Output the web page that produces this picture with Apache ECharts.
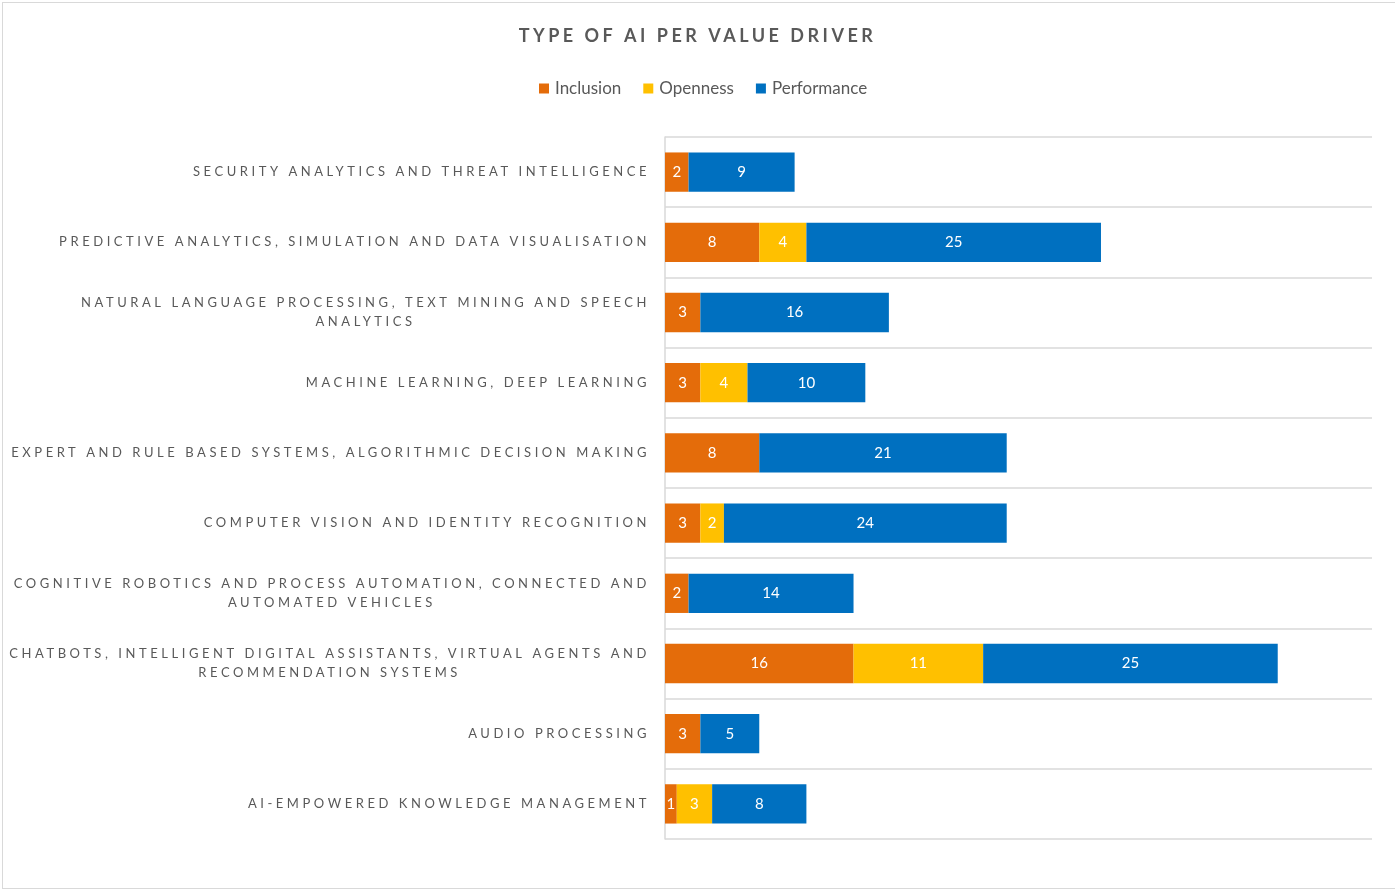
<!DOCTYPE html>
<html>
<head>
<meta charset="utf-8">
<script src="https://cdn.jsdelivr.net/npm/echarts@6/dist/echarts.min.js"></script>
<style>
html,body{margin:0;padding:0;background:#fff;}
#frame{position:absolute;left:2px;top:2px;width:1400px;height:887px;border:1px solid #d9d9d9;box-sizing:border-box;}
#chart{position:absolute;left:0;top:0;width:1395px;height:891px;}
</style>
</head>
<body>
<div id="frame"></div>
<div id="chart"></div>
<script>
// letter-spacing support for canvas text: font families tagged "spcN_M" get N.M px spacing
(function(){
  var proto = CanvasRenderingContext2D.prototype;
  var d = Object.getOwnPropertyDescriptor(proto, 'font');
  if (d && 'letterSpacing' in proto) {
    Object.defineProperty(proto, 'font', {
      configurable: true,
      get: function(){ return d.get.call(this); },
      set: function(v){
        d.set.call(this, v);
        var m = /spc(\d+)_(\d+)/.exec(String(v));
        this.letterSpacing = m ? (m[1] + '.' + m[2]) + 'px' : '0px';
      }
    });
  }
})();

const title = 'TYPE OF AI PER VALUE DRIVER';
const categories = [
  'SECURITY ANALYTICS AND THREAT INTELLIGENCE',
  'PREDICTIVE ANALYTICS, SIMULATION AND DATA VISUALISATION',
  'NATURAL LANGUAGE PROCESSING, TEXT MINING AND SPEECH ANALYTICS',
  'MACHINE LEARNING, DEEP LEARNING',
  'EXPERT AND RULE BASED SYSTEMS, ALGORITHMIC DECISION MAKING',
  'COMPUTER VISION AND IDENTITY RECOGNITION',
  'COGNITIVE ROBOTICS AND PROCESS AUTOMATION, CONNECTED AND AUTOMATED VEHICLES',
  'CHATBOTS, INTELLIGENT DIGITAL ASSISTANTS, VIRTUAL AGENTS AND RECOMMENDATION SYSTEMS',
  'AUDIO PROCESSING',
  'AI-EMPOWERED KNOWLEDGE MANAGEMENT'
];
const inclusion   = [2, 8, 3, 3, 8, 3, 2, 16, 3, 1];
const openness    = [0, 4, 0, 4, 0, 2, 0, 11, 0, 3];
const performance = [9, 25, 16, 10, 21, 24, 14, 25, 5, 8];

function wrap(s, max) {
  const words = s.split(' ');
  const lines = [];
  let cur = '';
  words.forEach(w => {
    if (cur && (cur + ' ' + w).length > max) { lines.push(cur); cur = w; }
    else cur = cur ? cur + ' ' + w : w;
  });
  if (cur) lines.push(cur);
  return lines;
}

const chart = echarts.init(document.getElementById('chart'), null, {renderer: 'canvas'});
const labelFont = "Lato, spc3_55";
const lbl = {
  show: true, color: '#ffffff', fontSize: 15, fontFamily: 'Lato',
  formatter: p => (p.value ? String(p.value) : '')
};
function series(name, data, color) {
  return {
    name: name, type: 'bar', stack: 'total', data: data, barWidth: '56%',
    itemStyle: {color: color}, label: lbl, emphasis: {disabled: true}
  };
}
chart.setOption({
  animation: false,
  title: {
    text: title, left: 'center', top: 20,
    textStyle: {color: '#595959', fontSize: 18, fontWeight: 'bold', fontFamily: "Lato, spc3_5"}
  },
  legend: {
    top: 75, left: 534, itemWidth: 10, itemHeight: 10, itemGap: 22,
    icon: 'rect',
    textStyle: {color: '#595959', fontSize: 17, fontFamily: 'Lato', padding: [0, 0, 0, 1]},
    data: ['Inclusion', 'Openness', 'Performance']
  },
  grid: {left: 665, right: 23, top: 137, bottom: 52, containLabel: false},
  xAxis: {
    type: 'value', min: 0, max: 60,
    axisLabel: {show: false}, axisLine: {show: false}, axisTick: {show: false},
    splitLine: {show: false}
  },
  yAxis: {
    type: 'category', data: categories, inverse: true,
    axisTick: {show: false},
    axisLine: {show: true, lineStyle: {color: '#d9d9d9', width: 1.5}},
    splitLine: {show: true, lineStyle: {color: '#d9d9d9', width: 1.5}},
    axisLabel: {
      margin: 15, color: '#595959', fontSize: 13, fontFamily: labelFont, lineHeight: 19,
      formatter: v => wrap(v, 60).map(l => '{c|' + l + '}').join('\n'),
      rich: {c: {align: 'center', color: '#595959', fontSize: 13, fontFamily: labelFont, lineHeight: 19}}
    }
  },
  series: [
    series('Inclusion', inclusion, '#E46C0A'),
    series('Openness', openness, '#FFC000'),
    series('Performance', performance, '#0070C0')
  ]
});
</script>
</body>
</html>
